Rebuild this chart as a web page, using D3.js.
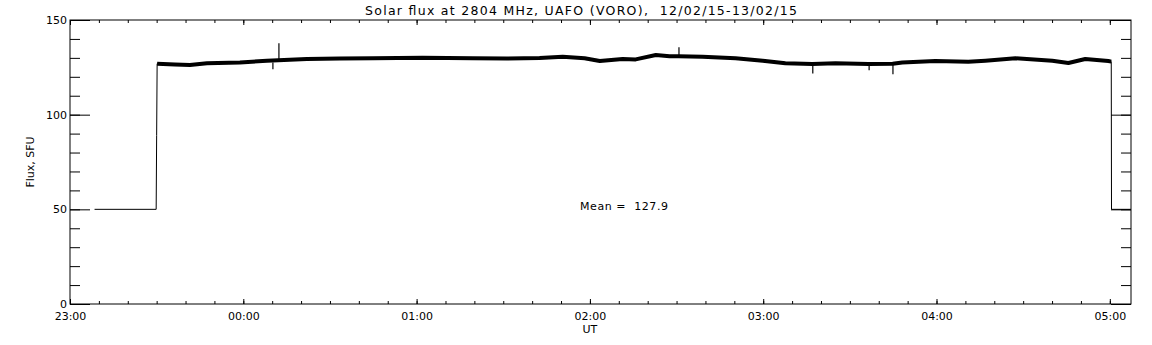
<!DOCTYPE html>
<html>
<head>
<meta charset="utf-8">
<script src="https://cdn.jsdelivr.net/npm/d3@7"></script>
<style>
  body { margin: 0; background: #fff; }
  svg text { font-family: "DejaVu Sans", sans-serif; fill: #000; white-space: pre; }
</style>
</head>
<body>
<svg id="chart" width="1152" height="345"></svg>
<script>
// data (UT time, flux in SFU)
const titleText = "Solar flux at 2804 MHz, UAFO (VORO),  12/02/15-13/02/15";
const meanText = "Mean =  127.9";
const yLabel = "Flux, SFU";
const xLabel = "UT";

const times = [
  "2015-02-12 23:08:30", "2015-02-12 23:29:50", "2015-02-12 23:30:00", "2015-02-12 23:30:10",
  "2015-02-12 23:36:20", "2015-02-12 23:41:30", "2015-02-12 23:47:25", "2015-02-12 23:58:50",
  "2015-02-13 00:08:10", "2015-02-13 00:22:00", "2015-02-13 00:33:25", "2015-02-13 00:44:50",
  "2015-02-13 01:02:05", "2015-02-13 01:19:25", "2015-02-13 01:31:10", "2015-02-13 01:42:35",
  "2015-02-13 01:50:35", "2015-02-13 01:58:10", "2015-02-13 02:03:25", "2015-02-13 02:11:20",
  "2015-02-13 02:15:50", "2015-02-13 02:22:50", "2015-02-13 02:27:35", "2015-02-13 02:30:40",
  "2015-02-13 02:39:00", "2015-02-13 02:50:25", "2015-02-13 02:59:50", "2015-02-13 03:07:40",
  "2015-02-13 03:17:00", "2015-02-13 03:25:00", "2015-02-13 03:36:30", "2015-02-13 03:44:50",
  "2015-02-13 03:48:10", "2015-02-13 03:59:35", "2015-02-13 04:11:00", "2015-02-13 04:16:55",
  "2015-02-13 04:27:20", "2015-02-13 04:40:05", "2015-02-13 04:45:40", "2015-02-13 04:51:30",
  "2015-02-13 04:59:30", "2015-02-13 05:00:30", "2015-02-13 05:00:35", "2015-02-13 05:10:00"
];
const flux = [
  50, 50, 89, 126.9,
  126.5, 126.2, 127.1, 127.6,
  128.5, 129.4, 129.6, 129.8,
  130.1, 129.8, 129.6, 129.9,
  130.6, 129.8, 128.3, 129.4,
  129.2, 131.5, 130.9, 130.8,
  130.6, 129.8, 128.5, 127.1,
  126.7, 127.1, 126.7, 126.9,
  127.6, 128.3, 127.9, 128.5,
  129.8, 128.5, 127.3, 129.4,
  128.3, 128.0, 50, 50
];

// short spikes sticking out of the trace
const spikeTimes = ["2015-02-13 00:10:15", "2015-02-13 00:12:20", "2015-02-13 02:30:50",
                    "2015-02-13 03:17:10", "2015-02-13 03:36:40", "2015-02-13 03:44:55"];
const spikeBase = [127.5, 129.0, 130.8, 126.7, 126.7, 126.9];
const spikeValues = [124.0, 137.7, 135.6, 121.8, 123.5, 121.3];

const yMajorTicks = [0, 50, 100, 150];
const xStart = "2015-02-12 23:00:00";
const xEnd = "2015-02-13 05:07:20";

// layout
const margin = {left: 70, top: 20, right: 21, bottom: 41};
const width = 1152, height = 345;
const plotW = width - margin.left - margin.right;
const plotH = height - margin.top - margin.bottom;

const parse = d3.utcParse("%Y-%m-%d %H:%M:%S");

const svg = d3.select("#chart");
const g = svg.append("g").attr("transform", "translate(" + margin.left + "," + margin.top + ")");

const x = d3.scaleUtc().domain([parse(xStart), parse(xEnd)]).range([0, plotW]);
const y = d3.scaleLinear().domain([0, 150]).range([plotH, 0]);

// clip
svg.append("defs").append("clipPath").attr("id", "clip")
  .append("rect").attr("width", plotW).attr("height", plotH);

// axes: minor ticks first, then major ones
const hourTicks = x.ticks(d3.utcHour.every(1));
const tenMinTicks = x.ticks(d3.utcMinute.every(10));
const yMinor = d3.range(0, 151, 10);

function styleAxis(sel) {
  sel.select(".domain").remove();
  sel.selectAll("line").attr("stroke", "#000").attr("stroke-width", 1);
  sel.selectAll("text").style("font-size", "11px");
}

g.append("g").attr("transform", "translate(0," + plotH + ")")
  .call(d3.axisBottom(x).tickValues(tenMinTicks).tickSize(-3).tickFormat(""))
  .call(styleAxis);
g.append("g").attr("transform", "translate(0," + plotH + ")")
  .call(d3.axisBottom(x).tickValues(hourTicks).tickSize(-5).tickPadding(8).tickFormat(d3.utcFormat("%H:%M")))
  .call(styleAxis);
g.append("g")
  .call(d3.axisTop(x).tickValues(tenMinTicks).tickSize(-3).tickFormat(""))
  .call(styleAxis);
g.append("g")
  .call(d3.axisTop(x).tickValues(hourTicks).tickSize(-5).tickFormat(""))
  .call(styleAxis);

g.append("g")
  .call(d3.axisLeft(y).tickValues(yMinor).tickSize(-10).tickFormat(""))
  .call(styleAxis);
g.append("g")
  .call(d3.axisLeft(y).tickValues(yMajorTicks).tickSize(-20).tickPadding(3))
  .call(styleAxis);
g.append("g").attr("transform", "translate(" + plotW + ",0)")
  .call(d3.axisRight(y).tickValues(yMinor).tickSize(-10).tickFormat(""))
  .call(styleAxis);
g.append("g").attr("transform", "translate(" + plotW + ",0)")
  .call(d3.axisRight(y).tickValues(yMajorTicks).tickSize(-20).tickFormat(""))
  .call(styleAxis);

// frame
g.append("rect").attr("width", plotW).attr("height", plotH)
  .attr("fill", "none").attr("stroke", "#000").attr("stroke-width", 1);

// data
const series = times.map((t, i) => ({t: parse(t), v: flux[i]}));
const line = d3.line().x(d => x(d.t)).y(d => y(d.v));

const plot = g.append("g").attr("clip-path", "url(#clip)");
plot.append("path").datum(series).attr("d", line)
  .attr("fill", "none").attr("stroke", "#000").attr("stroke-width", 1);
// thick noisy band of the observation
plot.append("path").datum(series.filter(d => d.v > 100)).attr("d", line)
  .attr("fill", "none").attr("stroke", "#000").attr("stroke-width", 4)
  .attr("stroke-linejoin", "round");
plot.selectAll(".spike").data(spikeTimes).enter().append("line")
  .attr("x1", (d) => x(parse(d))).attr("x2", (d) => x(parse(d)))
  .attr("y1", (d, i) => y(spikeBase[i])).attr("y2", (d, i) => y(spikeValues[i]))
  .attr("stroke", "#000").attr("stroke-width", 1.2);

// texts
svg.append("text").attr("x", 581).attr("y", 15).attr("text-anchor", "middle")
  .style("font-size", "12.5px").attr("textLength", 432).attr("lengthAdjust", "spacing")
  .text(titleText);
svg.append("text").attr("x", 580).attr("y", 210)
  .style("font-size", "11px").attr("textLength", 88).attr("lengthAdjust", "spacing")
  .text(meanText);
svg.append("text").attr("transform", "translate(34,162) rotate(-90)").attr("text-anchor", "middle")
  .style("font-size", "11px").text(yLabel);
svg.append("text").attr("x", margin.left + x(parse("2015-02-13 02:00:00"))).attr("y", 333)
  .attr("text-anchor", "middle").style("font-size", "11px").text(xLabel);
</script>
</body>
</html>
